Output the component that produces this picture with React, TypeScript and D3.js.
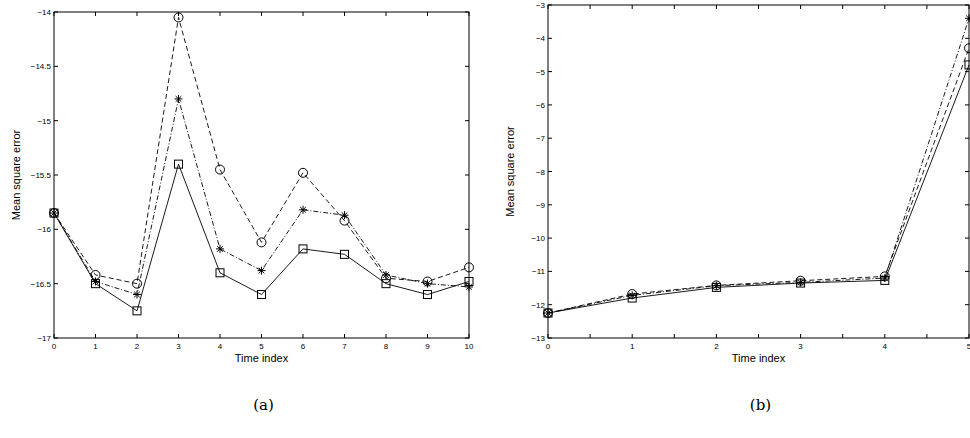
import React, { useEffect, useRef } from 'react';
import * as d3 from 'd3';

const timeA = [0, 1, 2, 3, 4, 5, 6, 7, 8, 9, 10];
const squareA = [-15.85, -16.5, -16.75, -15.4, -16.4, -16.6, -16.18, -16.23, -16.5, -16.6, -16.48];
const circleA = [-15.85, -16.42, -16.5, -14.05, -15.45, -16.12, -15.48, -15.92, -16.45, -16.48, -16.35];
const starA = [-15.85, -16.48, -16.6, -14.8, -16.18, -16.38, -15.82, -15.87, -16.42, -16.5, -16.53];
const yTicksA = [-17, -16.5, -16, -15.5, -15, -14.5, -14];

const timeB = [0, 1, 2, 3, 4, 5];
const squareB = [-12.25, -11.8, -11.48, -11.35, -11.27, -4.8];
const circleB = [-12.25, -11.68, -11.42, -11.28, -11.15, -4.3];
const starB = [-12.25, -11.72, -11.43, -11.33, -11.2, -3.4];
const yTicksB = [-13, -12, -11, -10, -9, -8, -7, -6, -5, -4, -3];

interface PanelSpec {
  left: number; right: number; top: number; bottom: number;
  xs: number[]; yDomain: [number, number]; yTicks: number[]; xTicks: number[];
  square: number[]; circle: number[]; star: number[]; caption: string;
}

const panels: PanelSpec[] = [
  { left: 54, right: 469, top: 12, bottom: 338, xs: timeA, yDomain: [-17, -14], yTicks: yTicksA,
    xTicks: timeA, square: squareA, circle: circleA, star: starA, caption: '(a)' },
  { left: 548, right: 969, top: 5, bottom: 338, xs: timeB, yDomain: [-13, -3], yTicks: yTicksB,
    xTicks: d3.range(0, 5.01, 0.5), square: squareB, circle: circleB, star: starB, caption: '(b)' },
];

function drawPanel(svg: d3.Selection<SVGSVGElement, unknown, null, undefined>, p: PanelSpec) {
  const x = d3.scaleLinear().domain([p.xs[0], p.xs[p.xs.length - 1]]).range([p.left, p.right]);
  const y = d3.scaleLinear().domain(p.yDomain).range([p.bottom, p.top]);
  const g = svg.append('g').attr('font-family', 'Liberation Sans, Arial, sans-serif');
  const fmt = (v: number) => String(v).replace('-', '\u2212');

  const clip = `clip${p.caption.replace(/\W/g, '')}`;
  g.append('clipPath').attr('id', clip).append('rect')
    .attr('x', p.left - 8).attr('y', p.top - 8).attr('width', p.right - p.left + 16).attr('height', p.bottom - p.top + 16);

  g.append('rect').attr('x', p.left).attr('y', p.top).attr('width', p.right - p.left)
    .attr('height', p.bottom - p.top).attr('fill', 'white').attr('stroke', 'black').attr('stroke-width', 1);

  const tl = 4;
  p.xTicks.forEach(t => {
    g.append('line').attr('x1', x(t)).attr('x2', x(t)).attr('y1', p.bottom).attr('y2', p.bottom - tl).attr('stroke', 'black');
    g.append('line').attr('x1', x(t)).attr('x2', x(t)).attr('y1', p.top).attr('y2', p.top + tl).attr('stroke', 'black');
  });
  p.xs.forEach(t => {
    g.append('text').attr('x', x(t)).attr('y', p.bottom + 11).attr('text-anchor', 'middle')
      .attr('font-size', 8).text(fmt(t));
  });
  p.yTicks.forEach(t => {
    g.append('line').attr('x1', p.left).attr('x2', p.left + tl).attr('y1', y(t)).attr('y2', y(t)).attr('stroke', 'black');
    g.append('line').attr('x1', p.right).attr('x2', p.right - tl).attr('y1', y(t)).attr('y2', y(t)).attr('stroke', 'black');
    g.append('text').attr('x', p.left - 3).attr('y', y(t) + 3).attr('text-anchor', 'end')
      .attr('font-size', 8).text(fmt(t));
  });

  g.append('text').attr('x', (p.left + p.right) / 2).attr('y', p.bottom + 24).attr('text-anchor', 'middle')
    .attr('font-size', 11).text('Time index');
  g.append('text').attr('transform', `translate(${p.left - 34},${(p.top + p.bottom) / 2}) rotate(-90)`)
    .attr('text-anchor', 'middle').attr('font-size', 11).text('Mean square error');
  svg.append('text').attr('x', (p.left + p.right) / 2 + 2).attr('y', 410).attr('text-anchor', 'middle')
    .attr('font-family', 'DejaVu Serif, serif').attr('font-size', 15).text(p.caption);

  const line = d3.line<number>().x((_, i) => x(p.xs[i])).y(d => y(d));
  const plot = g.append('g').attr('clip-path', `url(#${clip})`);
  const series = [
    { data: p.square, dash: null, mark: 'square' },
    { data: p.circle, dash: '5,3', mark: 'circle' },
    { data: p.star, dash: '5,2,1,2', mark: 'star' },
  ];
  series.forEach(s => {
    plot.append('path').attr('d', line(s.data)).attr('fill', 'none').attr('stroke', 'black')
      .attr('stroke-width', 0.9).attr('stroke-dasharray', s.dash);
    s.data.forEach((v, i) => {
      const cx = x(p.xs[i]), cy = y(v);
      if (s.mark === 'square') {
        plot.append('rect').attr('x', cx - 4).attr('y', cy - 4).attr('width', 8).attr('height', 8)
          .attr('fill', 'none').attr('stroke', 'black');
      } else if (s.mark === 'circle') {
        plot.append('circle').attr('cx', cx).attr('cy', cy).attr('r', 4.5).attr('fill', 'none').attr('stroke', 'black');
      } else {
        [0, 45, 90, 135].forEach(a => {
          const r = 4, dx = r * Math.cos(a * Math.PI / 180), dy = r * Math.sin(a * Math.PI / 180);
          plot.append('line').attr('x1', cx - dx).attr('x2', cx + dx).attr('y1', cy - dy).attr('y2', cy + dy)
            .attr('stroke', 'black');
        });
      }
    });
  });
}

export default function App() {
  const ref = useRef<SVGSVGElement>(null);
  useEffect(() => {
    if (!ref.current) return;
    const svg = d3.select(ref.current);
    svg.selectAll('*').remove();
    panels.forEach(p => drawPanel(svg, p));
  }, []);
  return (
    <svg ref={ref} width={970} height={438}
      style={{ position: 'absolute', left: 0, top: 0, background: 'white' }} />
  );
}
